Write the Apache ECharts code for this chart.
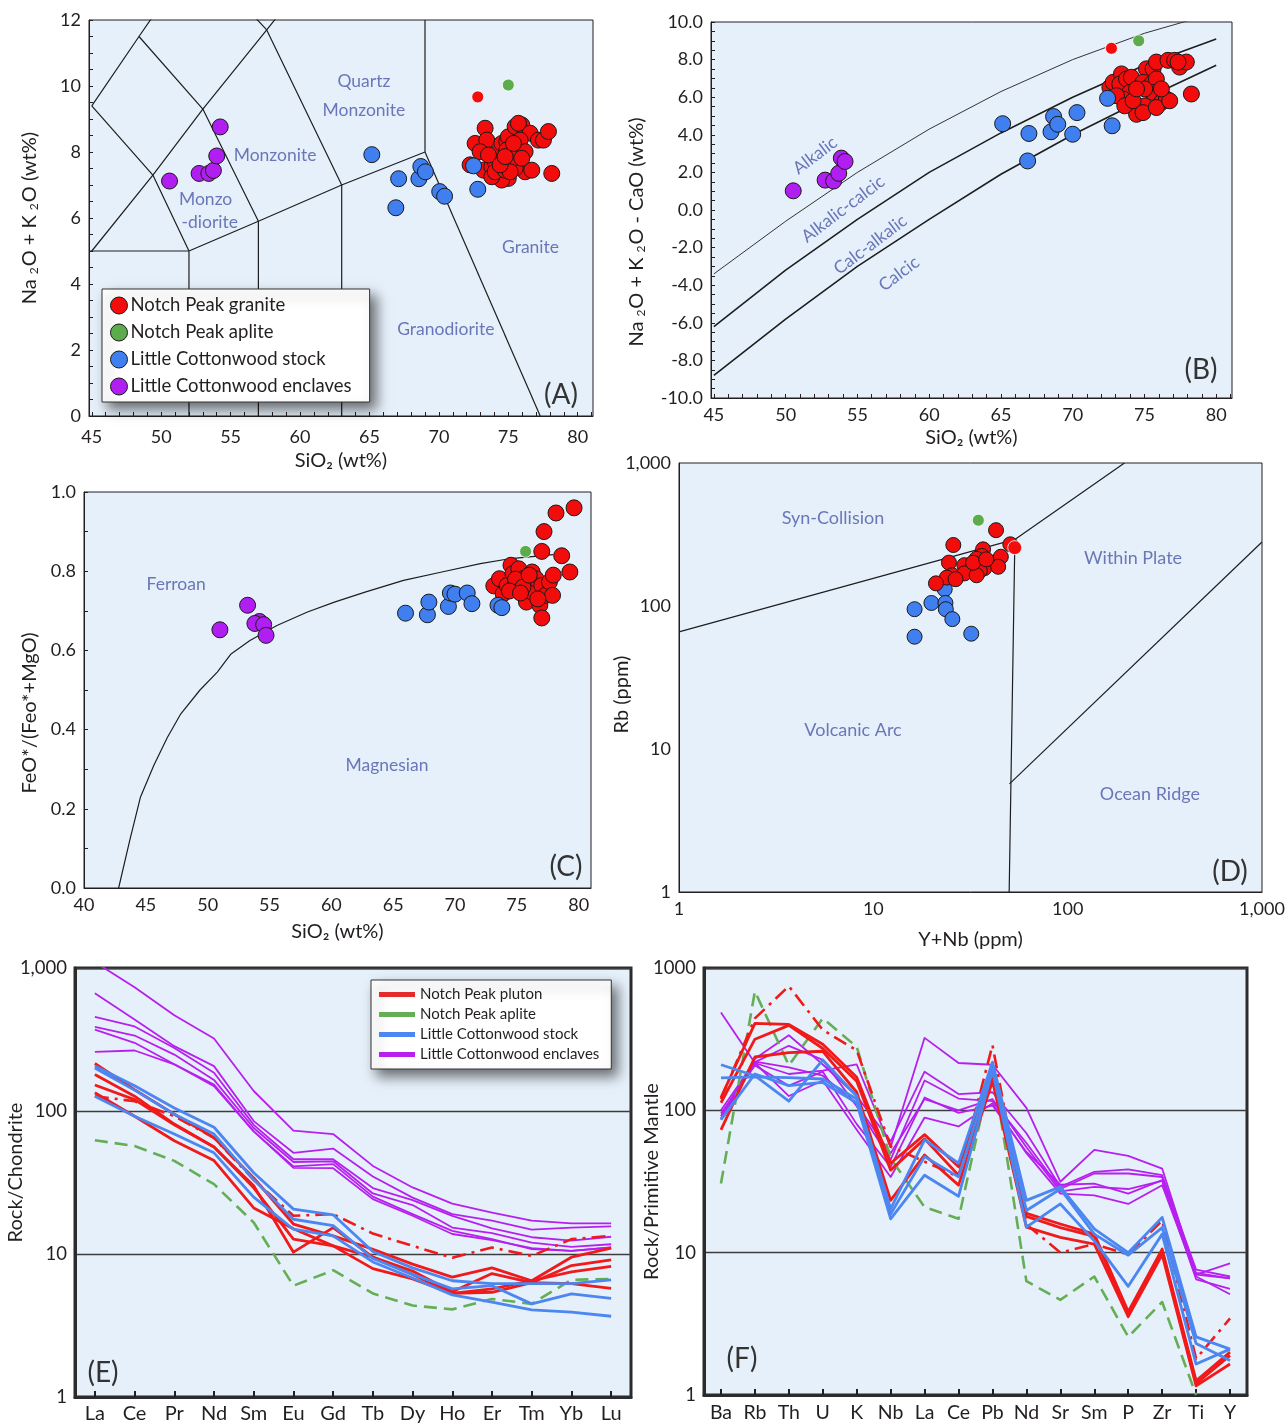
<!DOCTYPE html>
<html><head><meta charset="utf-8">
<script src="https://cdn.jsdelivr.net/npm/echarts@6/dist/echarts.min.js"></script>
<style>html,body{margin:0;padding:0;background:#fff}#main{width:1288px;height:1424px}</style>
</head><body><div id="main"></div>
<script>
// ---------------- DATA ----------------
// Panel A : TAS (SiO2 vs Na2O+K2O)
const siTicks = [45,50,55,60,65,70,75,80];
const tasYTicks = [0,2,4,6,8,10,12];
const tasGranite = [[73.33,8.72],[72.61,8.26],[73.45,8.36],[72.97,8.01],[72.25,7.61],[73.21,7.45],[73.81,7.55],[74.05,7.71],[74.17,7.96],[74.53,8.26],[74.89,8.31],[75.0,8.46],[75.49,8.77],[75.97,8.82],[75.73,8.87],[76.57,8.57],[77.17,8.36],[77.53,8.36],[77.89,8.62],[75.85,8.36],[75.61,7.76],[74.89,8.06],[76.21,8.01],[74.29,7.30],[75.0,7.20],[74.53,7.15],[76.21,7.40],[76.69,7.45],[78.13,7.35],[73.81,7.25],[75.49,7.51],[73.57,7.91],[74.05,7.40],[74.77,7.45],[75.37,7.81],[75.97,7.81],[75.13,7.40],[74.41,7.61],[74.77,7.86],[75.37,8.26]];
const tasGraniteOutlier = [[72.8,9.67]];
const tasAplite = [[75.0,10.03]];
const tasStock = [[65.17,7.92],[67.1,7.19],[66.9,6.31],[68.56,7.19],[68.7,7.56],[69.03,7.40],[70.06,6.80],[70.41,6.66],[72.5,7.58],[72.8,6.87]];
const tasEnclaves = [[50.6,7.12],[52.73,7.35],[53.43,7.35],[53.76,7.44],[54.0,7.88],[54.25,8.76]];
const tasBoundaries = [
  [[45,9.4],[48.4,11.5],[52.5,14]],
  [[48.4,11.5],[53,9.3],[57,5.9]],
  [[45,9.4],[49.4,7.3],[52,5]],
  [[44.8,5],[52,5]],
  [[45,5],[49.4,7.3],[53,9.3],[57.6,11.7],[61,13.5]],
  [[52.5,14],[57.6,11.7],[63,7]],
  [[52,0],[52,5],[57,5.9],[63,7],[69,8],[69,12]],
  [[57,0],[57,5.9]],
  [[63,0],[63,7]],
  [[69,8],[77.3,0]]
];
const tasFieldLabels = [
  {text:'Quartz',x:64.6,y:10.15},{text:'Monzonite',x:64.6,y:9.27},
  {text:'Monzonite',x:58.2,y:7.91},{text:'Monzo',x:53.2,y:6.58},{text:'-diorite',x:53.5,y:5.88},
  {text:'Granite',x:76.6,y:5.12},{text:'Granodiorite',x:70.5,y:2.64}
];

// Panel B : MALI
const maliYTicks = [-10,-8,-6,-4,-2,0,2,4,6,8,10];
const maliGranite = [[72.59,6.52],[72.82,6.79],[73.40,7.24],[73.28,6.70],[73.75,6.97],[74.09,7.06],[73.98,6.25],[74.33,5.63],[74.45,5.09],[75.02,5.54],[75.14,7.51],[75.60,7.51],[75.83,7.87],[76.64,7.96],[77.11,7.96],[77.45,7.60],[77.92,7.87],[78.27,6.17],[74.90,6.79],[75.49,6.70],[75.83,6.97],[75.60,6.25],[76.18,5.72],[76.53,5.90],[73.51,5.90],[73.05,6.08],[73.63,5.54],[74.21,5.81],[75.02,6.44],[74.45,6.44],[74.90,5.18],[75.83,5.45],[76.76,5.81],[76.18,6.44],[77.34,7.87]];
const maliGraniteOutlier = [[72.7,8.6]];
const maliAplite = [[74.6,9.0]];
const maliStock = [[65.12,4.59],[66.95,4.07],[66.86,2.61],[68.49,4.16],[68.67,4.97],[68.96,4.56],[70.0,4.03],[70.3,5.18],[72.43,5.94],[72.75,4.48]];
const maliEnclaves = [[50.53,1.02],[52.75,1.59],[53.34,1.54],[53.7,1.95],[53.88,2.76],[54.14,2.58]];
const maliAlkalic = [[45,-3.4],[50,-0.6],[55,2.0],[60,4.3],[65,6.3],[70,8.0],[75,9.4],[80,10.5]];
const maliAlkCalcic = [[45,-6.2],[50,-3.2],[55,-0.5],[60,2.0],[65,4.1],[70,6.0],[75,7.7],[80,9.1]];
const maliCalcAlk = [[45,-8.8],[50,-5.8],[55,-3.0],[60,-0.5],[65,1.9],[70,4.0],[75,5.9],[80,7.7]];
const maliFieldLabels = [
  {text:'Alkalic',x:52.05,y:2.9,rot:37},{text:'Alkalic-calcic',x:54.0,y:0.05,rot:37},
  {text:'Calc-alkalic',x:55.9,y:-1.85,rot:37},{text:'Calcic',x:57.9,y:-3.4,rot:37}
];

// Panel C : Fe-index
const feXTicks = [40,45,50,55,60,65,70,75,80];
const feYTicks = [0,0.2,0.4,0.6,0.8,1.0];
const feGranite = [[73.14,0.763],[73.6,0.781],[73.9,0.743],[74.53,0.815],[74.22,0.764],[74.69,0.794],[75.16,0.806],[75.31,0.773],[75.47,0.781],[75.62,0.739],[75.78,0.722],[75.93,0.756],[76.24,0.798],[76.24,0.747],[76.55,0.781],[76.86,0.714],[77.02,0.764],[77.33,0.739],[77.64,0.773],[77.95,0.79],[77.89,0.739],[74.84,0.764],[79.63,0.960],[78.17,0.947],[77.2,0.90],[77.02,0.85],[78.63,0.839],[79.29,0.798],[77.02,0.682],[74.9,0.78],[75.5,0.76],[76.0,0.79],[74.4,0.75],[76.7,0.73],[75.3,0.745]];
const feAplite = [[75.71,0.850]];
const feStock = [[66.0,0.694],[67.77,0.690],[67.89,0.722],[69.47,0.711],[69.63,0.745],[70.0,0.742],[70.99,0.745],[71.37,0.718],[73.48,0.714],[73.79,0.708]];
const feEnclaves = [[50.99,0.652],[53.23,0.714],[54.19,0.673],[53.82,0.668],[54.53,0.665],[54.72,0.638]];
const feBoundary = [[42.8,0],[43.7,0.12],[44.57,0.23],[45.65,0.31],[46.74,0.38],[47.83,0.44],[49.38,0.50],[50.78,0.545],[51.86,0.59],[53.42,0.625],[55.6,0.663],[58.07,0.697],[60.25,0.722],[62.73,0.747],[65.84,0.777],[68.94,0.798],[72.05,0.819],[74.53,0.832],[77.95,0.842]];
const feFieldLabels = [{text:'Ferroan',x:47.45,y:0.768},{text:'Magnesian',x:64.5,y:0.31}];

// Panel D : Pearce Rb vs Y+Nb
const pearceStock = [[16.3,61],[16.3,95],[19.9,105],[23.3,131],[23.5,105],[23.6,95],[25.5,81],[31.9,64]];
const pearceGranite = [[42.8,339],[25.8,267],[50.7,270],[36.7,249],[36.2,224],[45.3,221],[34.0,214],[24.5,201],[29.4,193],[37.3,184],[43.9,188],[35.3,176],[25.5,164],[29.4,169],[34.0,164],[23.9,158],[26.5,154],[21.0,144],[32.6,201],[38.1,212]];
const pearceGraniteOutlier = [[53.4,256]];
const pearceAplite = [[34.7,398]];
const pearceBoundaries = [
  [[1,66],[53.5,292],[196,1000]],
  [[53.5,292],[50,1]],
  [[50.2,5.7],[1000,280]]
];
const pearceFieldLabels = [
  {text:'Syn-Collision',x:6.2,y:412},{text:'Within Plate',x:217,y:217},
  {text:'Volcanic Arc',x:7.86,y:13.6},{text:'Ocean Ridge',x:265,y:4.85}
];

// Panel E : REE / chondrite
const reeElements = ['La','Ce','Pr','Nd','Sm','Eu','Gd','Tb','Dy','Ho','Er','Tm','Yb','Lu'];
const reePluton1 = [215,141,95,65,34,16.2,13.4,10.8,8.5,6.9,8.0,6.5,9.5,11.0];
const reePluton2 = [180,127,81,56,29,12.7,11.4,9.5,7.6,5.45,7.3,6.3,8.3,9.1];
const reePluton3 = [152,120,80,56,30,10.3,15.3,9.5,7.2,5.3,5.7,6.5,7.5,8.2];
const reePluton4 = [134,92,62,45,21,15,11.4,7.9,6.7,5.3,5.4,6.3,6.2,5.75];
const reePlutonDashDot = [127,117,92,65,33,18.5,19,13.9,11.4,9.4,11.1,9.7,12.7,13.4];
const reeAplite = [62.4,57,44.8,30.8,16.6,6.0,7.7,5.3,4.36,4.1,4.85,4.48,6.6,6.7];
const reeStock1 = [206,150,105,77,37,20.6,18.8,10.4,8.0,6.5,6.2,6.2,6.2,6.6];
const reeStock2 = [200,140,95,69,33,17.5,15.8,9.3,7.2,5.7,6.0,4.48,5.26,4.9];
const reeStock3 = [127,92,69,51,25,14.9,13.4,8.8,6.8,5.18,4.6,4.07,3.92,3.67];
const reeEncl1 = [1100,733,468,321,138,73,69,41.3,29.2,22.5,19.5,17.1,16.4,16.4];
const reeEncl2 = [665,436,284,206,85,51,54.6,34.8,24.8,19.0,17.1,14.8,15.3,15.6];
const reeEncl3 = [455,390,276,185,80,46,46,28.9,23.8,18.5,15.1,13.1,12.4,13.2];
const reeEncl4 = [387,337,248,165,76,44,44.5,26.5,22,15.3,14,12,11.2,11.7];
const reeEncl5 = [371,300,212,153,72,41,42.5,25.2,19,14.5,12.7,10.8,10.5,11.1];
const reeEncl6 = [259,265,212,149,72,40,39.8,24.2,18.5,13.8,12.5,11,10.5,11.1];

// Panel F : primitive-mantle spider
const spiderElements = ['Ba','Rb','Th','U','K','Nb','La','Ce','Pb','Nd','Sr','Sm','P','Zr','Ti','Y'];
const spPluton1 = [123,408,402,291,171,42.5,67.5,40.2,190,18.9,15.9,13.5,3.85,10.6,1.26,2.0];
const spPluton2 = [113,316,395,272,160,38,63,35,175,18,15,13,3.7,10.2,1.2,1.9];
const spPluton3 = [73,237,254,260,134,23.3,48.6,29.8,160,15.1,12.8,11.5,3.55,9.7,1.16,1.65];
const spPlutonDashDot = [120,443,745,367,264,55.7,43.6,34.1,287,15.8,10,11.5,9.7,16.8,1.8,3.45];
const spAplite = [30.6,685,207,443,279,46,20.9,17.3,206,6.3,4.66,6.8,2.56,4.5,1.0,null];
const spStock1 = [209,175,116,226,126,20.3,62,42.5,218,23.3,29,14.7,10,17.7,2.56,2.1];
const spStock2 = [169,172,170,166,120,18.7,47.3,34.1,200,19.8,28,13.5,9.6,15,2.3,1.75];
const spStock3 = [86,180,149,157,113,17.3,35,24.9,190,15.1,22,12.1,5.8,13.5,1.65,2.1];
const spEncl1 = [486,215,180,190,210,55,323,215,209,104,31.5,52.8,47.9,39,7.0,8.4];
const spEncl2 = [91,230,337,210,126,60.5,187,130,134,69,29,37,38.5,35,7.6,6.8];
const spEncl3 = [86,218,284,226,107,45,162,121,116,59,28,36,36,34,7.2,6.6];
const spEncl4 = [95,207,149,187,80,40,123,96,108,51,30,30.6,26,32.3,6.5,5.57];
const spEncl5 = [88,215,126,162,73,34,89,77,112,50,26,25.3,22,29.8,6.8,5.1];
const spEncl6 = [100,220,200,175,110,50,120,100,120,55,27,29,28,32,7.0,6.6];

// ---------------- STYLE / BUILD ----------------
const FONT = 'Lato, "Open Sans", sans-serif';
const TXT = '#231f20', AX = '#231f20', FIELD = '#4a57a8', BG = '#e6f0fa';
const RED = '#f20c0c', GREEN = '#5cab4c', BLUE = '#3f7ff0', PURPLE = '#b11ef2';
const LRED = '#f01a1a', LGREEN = '#64ae55', LBLUE = '#4c86f0', LPURPLE = '#b620ee';
const NAME_SIZE = 20;

function steps(a, b, s) { const r = []; for (let v = a; v <= b + 1e-9; v += s) r.push(Math.round(v * 100) / 100); return r; }
function merge(a, b) {
  const o = Object.assign({}, a);
  for (const k in b) {
    if (b[k] && typeof b[k] === 'object' && !Array.isArray(b[k]) && a[k] && typeof a[k] === 'object' && !Array.isArray(a[k])) o[k] = merge(a[k], b[k]);
    else o[k] = b[k];
  }
  return o;
}
const baseAxis = {
  axisLine: { show: true, onZero: false, lineStyle: { color: AX, width: 1 } },
  axisTick: { show: true, inside: true, length: 4, lineStyle: { color: AX, width: 1 } },
  axisLabel: { color: TXT, fontSize: 18, fontFamily: FONT },
  splitLine: { show: false },
  nameLocation: 'middle',
  nameMoveOverlap: false,
  nameTextStyle: { color: TXT, fontSize: NAME_SIZE, fontFamily: FONT, rich: { s: { fontSize: 12, fontFamily: FONT, color: TXT, verticalAlign: 'bottom', padding: [0, 1, 0, 5] } } }
};
const ax = o => merge(baseAxis, o);
const commaFmt = v => { const n = Math.round(v); return n >= 1000 ? '1,000' : String(n); };

const grids = [
  { left: 89, top: 20, width: 504, height: 396 },
  { left: 711, top: 22, width: 521, height: 376 },
  { left: 84, top: 492, width: 507, height: 396 },
  { left: 679, top: 463, width: 583, height: 429 },
  { left: 75, top: 968, width: 556, height: 429, thick: true },
  { left: 704, top: 968, width: 543, height: 427, thick: true }
].map(g => ({ left: g.left, top: g.top, width: g.width, height: g.height, show: true, backgroundColor: BG,
  borderColor: g.thick ? '#2b2b2b' : AX, borderWidth: g.thick ? 3 : 1, containLabel: false, outerBoundsMode: 'none' }));

const xAxes = [
  ax({ type: 'value', gridIndex: 0, min: 44.8, max: 81.1, axisLabel: { customValues: siTicks, margin: 12 }, axisTick: { customValues: steps(45, 81, 1) }, name: 'SiO₂ (wt%)', nameGap: 35 }),
  ax({ type: 'value', gridIndex: 1, min: 44.8, max: 81.1, axisLabel: { customValues: siTicks, margin: 8 }, axisTick: { customValues: steps(45, 81, 1) }, name: 'SiO₂ (wt%)', nameGap: 30 }),
  ax({ type: 'value', gridIndex: 2, min: 40, max: 81, axisLabel: { customValues: feXTicks, margin: 8 }, axisTick: { show: false }, name: 'SiO₂ (wt%)', nameGap: 34 }),
  ax({ type: 'log', logBase: 10, gridIndex: 3, min: 1, max: 1000, axisLabel: { formatter: commaFmt, margin: 8 }, axisTick: { show: false }, name: 'Y+Nb (ppm)', nameGap: 38 }),
  ax({ type: 'category', gridIndex: 4, data: reeElements, boundaryGap: true, axisLine: { lineStyle: { width: 3, color: '#2b2b2b' } }, axisTick: { alignWithLabel: true, inside: true, length: 6, lineStyle: { width: 2 } }, axisLabel: { fontSize: 20, margin: 7, interval: 0 } }),
  ax({ type: 'category', gridIndex: 5, data: spiderElements, boundaryGap: true, axisLine: { lineStyle: { width: 3, color: '#2b2b2b' } }, axisTick: { alignWithLabel: true, inside: true, length: 6, lineStyle: { width: 2 } }, axisLabel: { fontSize: 19.5, margin: 8, interval: 0 } })
];
const yAxes = [
  ax({ type: 'value', gridIndex: 0, min: 0, max: 12, axisLabel: { customValues: tasYTicks }, axisTick: { customValues: steps(0, 12, 0.5) }, name: 'Na{s|2}O + K{s|2}O (wt%)', nameGap: 49 }),
  ax({ type: 'value', gridIndex: 1, min: -10, max: 10, axisLabel: { customValues: maliYTicks, formatter: v => v.toFixed(1) }, axisTick: { customValues: steps(-10, 10, 0.5) }, name: 'Na{s|2}O + K{s|2}O - CaO (wt%)', nameGap: 64, nameTextStyle: { padding: [0, 44, 0, 0] } }),
  ax({ type: 'value', gridIndex: 2, min: 0, max: 1, axisLabel: { customValues: feYTicks, formatter: v => v.toFixed(1) }, axisTick: { customValues: steps(0, 1, 0.1) }, name: 'FeO*/(Feo*+MgO)', nameGap: 44, nameTextStyle: { padding: [0, 46, 0, 0] } }),
  ax({ type: 'log', logBase: 10, gridIndex: 3, min: 1, max: 1000, axisLabel: { formatter: commaFmt }, axisTick: { show: false }, name: 'Rb (ppm)', nameGap: 47, nameTextStyle: { padding: [0, 34, 0, 0] } }),
  ax({ type: 'log', logBase: 10, gridIndex: 4, min: 1, max: 1000, axisLine: { lineStyle: { width: 3, color: '#2b2b2b' } }, axisTick: { show: false }, axisLabel: { formatter: commaFmt, fontSize: 18.5 }, splitLine: { show: true, lineStyle: { color: '#3d3d3d', width: 1.3 } }, name: 'Rock/Chondrite', nameGap: 49, nameTextStyle: { padding: [0, 0, 0, 20] } }),
  ax({ type: 'log', logBase: 10, gridIndex: 5, min: 1, max: 1000, axisLine: { lineStyle: { width: 3, color: '#2b2b2b' } }, axisTick: { show: false }, axisLabel: { formatter: v => String(Math.round(v)), fontSize: 18.5 }, splitLine: { show: true, lineStyle: { color: '#3d3d3d', width: 1.3 } }, name: 'Rock/Primitive Mantle', nameGap: 42 })
];

const series = [];
function boundary(data, i, width, color) {
  series.push({ type: 'line', data, xAxisIndex: i, yAxisIndex: i, symbol: 'none', silent: true, z: 2,
    lineStyle: { color: color || '#1e1e1e', width: width || 1.2 }, clip: true });
}
function dots(name, data, color, i, size, small) {
  series.push({ type: 'scatter', name, data, xAxisIndex: i, yAxisIndex: i, symbolSize: size, silent: true, z: 4,
    itemStyle: { color, borderColor: small ? '#ffffff' : '#1a1a1a', borderWidth: small ? 0.8 : 1, opacity: 1 } });
}
function fieldLabels(list, i, size) {
  series.push({ type: 'scatter', data: list.map(l => ({ value: [l.x, l.y], name: l.text, label: l.rot ? { rotate: l.rot } : undefined })),
    xAxisIndex: i, yAxisIndex: i, symbolSize: 1, silent: true, z: 3, itemStyle: { color: 'transparent' },
    label: { show: true, position: 'inside', formatter: '{b}', color: FIELD, fontSize: size || 17.5, fontFamily: FONT } });
}
function spider(name, data, color, i, width, type) {
  series.push({ type: 'line', name, data, xAxisIndex: i, yAxisIndex: i, symbol: 'none', silent: true, z: 3,
    itemStyle: { color }, lineStyle: { color, width, type: type || 'solid', join: 'round' } });
}
const DASH = [13, 7], DASHDOT = [14, 6, 3, 6];

// A
tasBoundaries.forEach(b => boundary(b, 0, 1.2));
fieldLabels(tasFieldLabels, 0, 17.5);
dots('Notch Peak granite', tasGranite, RED, 0, 16);
dots('Notch Peak granite', tasGraniteOutlier, RED, 0, 12, true);
dots('Notch Peak aplite', tasAplite, GREEN, 0, 12, true);
dots('Little Cottonwood stock', tasStock, BLUE, 0, 16);
dots('Little Cottonwood enclaves', tasEnclaves, PURPLE, 0, 16);
// B
boundary(maliAlkalic, 1, 1.0, '#333'); boundary(maliAlkCalcic, 1, 1.6); boundary(maliCalcAlk, 1, 1.6);
fieldLabels(maliFieldLabels, 1, 17.5);
dots('Notch Peak granite', maliGranite, RED, 1, 16);
dots('Notch Peak granite', maliGraniteOutlier, RED, 1, 12, true);
dots('Notch Peak aplite', maliAplite, GREEN, 1, 12, true);
dots('Little Cottonwood stock', maliStock, BLUE, 1, 16);
dots('Little Cottonwood enclaves', maliEnclaves, PURPLE, 1, 16);
// C
boundary(feBoundary, 2, 1.2);
fieldLabels(feFieldLabels, 2, 17.5);
dots('Notch Peak granite', feGranite, RED, 2, 16);
dots('Notch Peak aplite', feAplite, GREEN, 2, 12, true);
dots('Little Cottonwood stock', feStock, BLUE, 2, 16);
dots('Little Cottonwood enclaves', feEnclaves, PURPLE, 2, 16);
// D
pearceBoundaries.forEach(b => boundary(b, 3, 1.2));
fieldLabels(pearceFieldLabels, 3, 18);
dots('Little Cottonwood stock', pearceStock, BLUE, 3, 15);
dots('Notch Peak granite', pearceGranite, RED, 3, 15);
dots('Notch Peak granite', pearceGraniteOutlier, RED, 3, 14, true);
dots('Notch Peak aplite', pearceAplite, GREEN, 3, 12, true);
// E
[reeEncl1, reeEncl2, reeEncl3, reeEncl4, reeEncl5, reeEncl6].forEach(d => spider('Little Cottonwood enclaves', d, LPURPLE, 4, 1.8));
spider('Notch Peak aplite', reeAplite, LGREEN, 4, 2.6, DASH);
[reePluton1, reePluton2, reePluton3, reePluton4].forEach(d => spider('Notch Peak pluton', d, LRED, 4, 2.8));
spider('Notch Peak pluton', reePlutonDashDot, LRED, 4, 2.6, DASHDOT);
[reeStock1, reeStock2, reeStock3].forEach(d => spider('Little Cottonwood stock', d, LBLUE, 4, 2.8));
// F
[spEncl1, spEncl2, spEncl3, spEncl4, spEncl5, spEncl6].forEach(d => spider('Little Cottonwood enclaves', d, LPURPLE, 5, 1.8));
spider('Notch Peak aplite', spAplite, LGREEN, 5, 2.6, DASH);
[spPluton1, spPluton2, spPluton3].forEach(d => spider('Notch Peak pluton', d, LRED, 5, 2.8));
spider('Notch Peak pluton', spPlutonDashDot, LRED, 5, 2.6, DASHDOT);
[spStock1, spStock2, spStock3].forEach(d => spider('Little Cottonwood stock', d, LBLUE, 5, 2.8));

const legendBox = { backgroundColor: '#ffffff', borderColor: '#333', borderWidth: 1, shadowColor: 'rgba(0,0,0,0.55)', shadowBlur: 12, shadowOffsetX: 6, shadowOffsetY: 7, orient: 'vertical', selectedMode: false };
const legends = [
  Object.assign({}, legendBox, { left: 102, top: 289, padding: [7, 18, 6, 8], itemGap: 8, itemWidth: 17, itemHeight: 17,
    textStyle: { fontSize: 18.5, color: TXT, fontFamily: FONT, padding: [0, 0, 0, -2] },
    data: [
      { name: 'Notch Peak granite', icon: 'circle', itemStyle: { color: RED, borderColor: '#1a1a1a', borderWidth: 1 } },
      { name: 'Notch Peak aplite', icon: 'circle', itemStyle: { color: GREEN, borderColor: '#1a1a1a', borderWidth: 1 } },
      { name: 'Little Cottonwood stock', icon: 'circle', itemStyle: { color: BLUE, borderColor: '#1a1a1a', borderWidth: 1 } },
      { name: 'Little Cottonwood enclaves', icon: 'circle', itemStyle: { color: PURPLE, borderColor: '#1a1a1a', borderWidth: 1 } }
    ] }),
  Object.assign({}, legendBox, { left: 371, top: 980, padding: [7, 12, 7, 8], itemGap: 5, itemWidth: 36, itemHeight: 5,
    textStyle: { fontSize: 15, color: TXT, fontFamily: FONT },
    data: [
      { name: 'Notch Peak pluton', icon: 'rect', itemStyle: { color: '#e32b2b', borderWidth: 0 } },
      { name: 'Notch Peak aplite', icon: 'rect', itemStyle: { color: LGREEN, borderWidth: 0 } },
      { name: 'Little Cottonwood stock', icon: 'rect', itemStyle: { color: LBLUE, borderWidth: 0 } },
      { name: 'Little Cottonwood enclaves', icon: 'rect', itemStyle: { color: LPURPLE, borderWidth: 0 } }
    ] })
];

const panelTag = (t, x, y) => ({ type: 'text', x, y, z: 100, silent: true,
  style: { text: t, fill: '#333', font: '28px ' + FONT, align: 'center', verticalAlign: 'middle' } });

const chart = echarts.init(document.getElementById('main'), null, { renderer: 'canvas', width: 1288, height: 1424 });
chart.setOption({
  animation: false,
  backgroundColor: '#ffffff',
  textStyle: { fontFamily: FONT },
  grid: grids, xAxis: xAxes, yAxis: yAxes,
  legend: legends,
  series,
  graphic: [panelTag('(A)', 561, 395), panelTag('(B)', 1201, 370), panelTag('(C)', 566, 867), panelTag('(D)', 1230, 872), panelTag('(E)', 103, 1373), panelTag('(F)', 742, 1359)]
});
</script></body></html>
